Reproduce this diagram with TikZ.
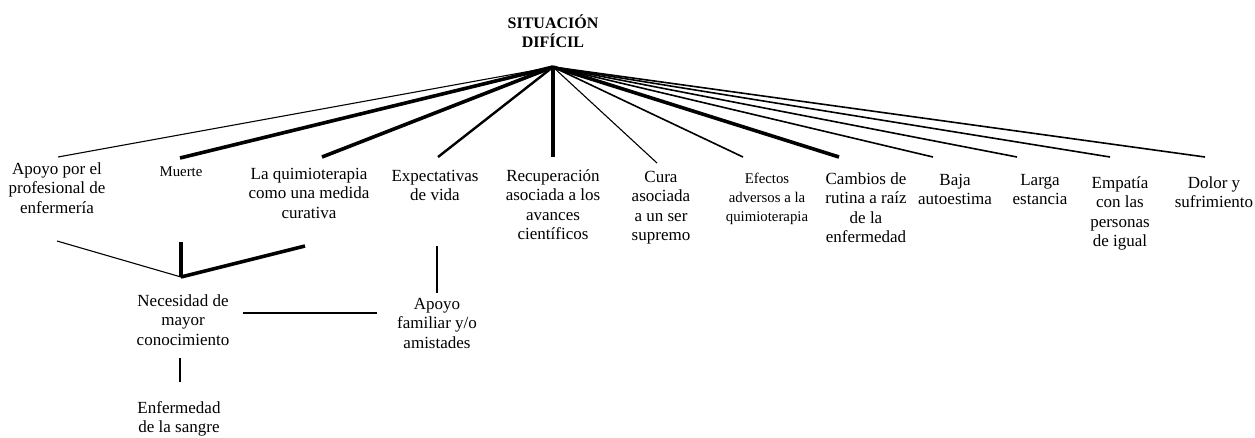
\documentclass[tikz,border=0pt]{standalone}
\usepackage{fontspec}
\setmainfont{Liberation Serif}
\begin{document}
\begin{tikzpicture}[x=1pt,y=-1pt,
  lbl/.style={anchor=north, align=center, inner sep=0pt, font=\fontsize{17}{19.5}\selectfont},
  lbls/.style={anchor=north, align=center, inner sep=0pt, font=\fontsize{14.8}{19}\selectfont},
  ttl/.style={anchor=north, align=center, inner sep=0pt, font=\bfseries\fontsize{16}{18.5}\selectfont},
  wthin/.style={line width=1.1pt},
  wmid/.style={line width=1.6pt},
  wmed/.style={line width=2.4pt},
  wthick/.style={line width=3.6pt},
]
\useasboundingbox (0,0) rectangle (1255,437);

% title and hub
\node[ttl] (title) at (553,15) {SITUACIÓN\\DIFÍCIL};
\coordinate (hub) at (553,67);

% first level
\node[lbl]  (apoyo)   at (57,162)  {Apoyo por el\\profesional de\\enfermería};
\node[lbls] (muerte)  at (181,167) {Muerte};
\node[lbl]  (quimio)  at (309,168) {La quimioterapia\\como una medida\\curativa};
\node[lbl]  (expect)  at (435,170) {Expectativas\\de vida};
\node[lbl]  (recup)   at (553,169) {Recuperación\\asociada a los\\avances\\científicos};
\node[lbl]  (cura)    at (661,171) {Cura\\asociada\\a un ser\\supremo};
\node[lbls] (efectos) at (767,173) {Efectos\\adversos a la\\quimioterapia};
\node[lbl]  (cambios) at (866,172) {Cambios de\\rutina a raíz\\de la\\enfermedad};
\node[lbl]  (baja)    at (955,174) {Baja\\autoestima};
\node[lbl]  (larga)   at (1040,174) {Larga\\estancia};
\node[lbl]  (empatia) at (1120,176) {Empatía\\con las\\personas\\de igual};
\node[lbl]  (dolor)   at (1214,176) {Dolor y\\sufrimiento};

% line ends above the labels
\coordinate (apoyo-in)   at (58,157);
\coordinate (muerte-in)  at (180,158);
\coordinate (quimio-in)  at (322,157);
\coordinate (expect-in)  at (438,157);
\coordinate (recup-in)   at (553,157);
\coordinate (cura-in)    at (657,163);
\coordinate (efectos-in) at (743,157);
\coordinate (cambios-in) at (839,157);
\coordinate (baja-in)    at (933,157);
\coordinate (larga-in)   at (1017,157);
\coordinate (empatia-in) at (1110,157);
\coordinate (dolor-in)   at (1205,157);

\draw[wthin]  (hub) -- (apoyo-in);
\draw[wthick] (hub) -- (muerte-in);
\draw[wthick] (hub) -- (quimio-in);
\draw[wmed]   (hub) -- (expect-in);
\draw[wthick] (hub) -- (recup-in);
\draw[wthin]  (hub) -- (cura-in);
\draw[wmid]   (hub) -- (efectos-in);
\draw[wthick] (hub) -- (cambios-in);
\draw[wmid]   (hub) -- (baja-in);
\draw[wmid]   (hub) -- (larga-in);
\draw[wmid]   (hub) -- (empatia-in);
\draw[wmid]   (hub) -- (dolor-in);

% second level
\node[lbl] (neces)  at (183,294) {Necesidad de\\mayor\\conocimiento};
\node[lbl] (apfam)  at (437,298) {Apoyo\\familiar y/o\\amistades};
\node[lbl] (enferm) at (179,401) {Enfermedad\\de la sangre};

\coordinate (apoyo-out)  at (57,241);
\coordinate (muerte-out) at (181,242);
\coordinate (quimio-out) at (305,246);
\coordinate (join)       at (181,277);
\coordinate (expect-out) at (437,246);
\coordinate (apfam-in)   at (437,293);
\coordinate (neces-r)    at (243,313);
\coordinate (apfam-l)    at (377,313);
\coordinate (neces-out)  at (180,358);
\coordinate (enferm-in)  at (180,382);

\draw[wthin]  (apoyo-out) -- (join);
\draw[wthick] (muerte-out) -- (join);
\draw[wthick] (quimio-out) -- (join);
\draw[wthin]  (expect-out) -- (apfam-in);
\draw[wthin]  (neces-r) -- (apfam-l);
\draw[wthin]  (neces-out) -- (enferm-in);
\end{tikzpicture}
\end{document}
